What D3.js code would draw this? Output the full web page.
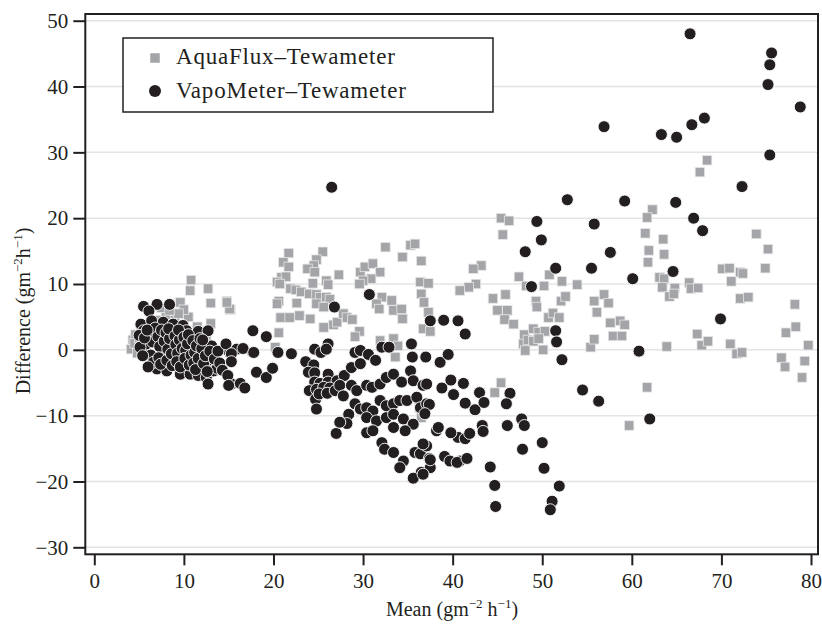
<!DOCTYPE html>
<html>
<head>
<meta charset="utf-8">
<script src="https://cdn.jsdelivr.net/npm/d3@7"></script>
<style>
  body { margin: 0; background: #fff; }
  svg { display: block; }
  text { font-family: "Liberation Serif", "DejaVu Serif", serif; fill: #231f20; }
</style>
</head>
<body>
<div class="container"></div>
<script>
// tick values
const xTicks = [0, 10, 20, 30, 40, 50, 60, 70, 80];
const yTicks = [-30, -20, -10, 0, 10, 20, 30, 40, 50];
const seriesNames = ["AquaFlux–Tewameter", "VapoMeter–Tewameter"];

// AquaFlux - Tewameter (mean, difference)
const aquaFlux = [
  [4.1,0.1],[4.3,1.5],[4.6,2.3],[4.5,1.0],[4.8,-0.5],[5.0,1.8],[5.5,0.5],[6.0,2.0],[6.5,3.5],[7.0,4.5],
  [7.5,1.0],[8.0,5.0],[8.5,2.5],[9.0,4.5],[9.5,0.0],[10.0,3.0],[10.5,5.0],[11.0,0.0],[11.5,3.5],[12.0,-1.0],
  [12.5,1.5],[13.0,4.0],[13.5,-0.5],[6.0,-1.0],[7.0,-2.0],[8.0,-1.0],[9.0,-2.5],
  [10.8,10.6],[10.7,9.0],[12.7,9.3],[13.0,7.1],[14.8,7.4],[15.2,6.1],[9.6,7.2],[10.0,6.1],[9.4,5.5],[7.5,6.4],[8.4,6.0],
  [15.1,6.2],[14.8,7.2],
  [21.7,14.7],[21.1,13.3],[21.7,12.6],[20.9,11.0],[21.4,11.1],[20.4,10.3],[25.5,14.9],[24.8,13.7],[24.5,12.8],[23.8,12.3],
  [24.6,11.8],[24.4,10.1],[25.9,10.5],[26.1,9.9],[27.3,11.4],[21.9,9.3],[22.5,9.1],[23.1,8.8],[24.0,8.5],[24.8,8.4],
  [25.2,8.0],[25.9,8.0],[26.3,7.7],[20.6,7.4],[22.6,7.1],[24.8,7.0],[25.6,6.5],[20.8,4.9],[21.8,4.9],[22.9,5.2],
  [24.1,4.7],[25.6,3.4],[26.7,3.8],[27.1,4.2],[27.8,5.5],[28.2,4.9],[28.8,4.6],[29.6,2.8],[29.1,2.0],[20.6,2.6],
  [20.2,0.4],[20.7,10.0],[20.4,7.0],
  [29.7,11.8],[30.2,12.6],[31.1,13.1],[31.9,11.8],[30.9,10.8],[30.0,10.5],[29.6,10.0],[32.5,15.6],[34.4,14.1],[35.3,15.9],
  [35.8,16.1],[36.5,13.5],[32.1,8.0],[31.5,7.0],[31.8,6.2],[33.2,7.5],[33.4,6.0],[34.3,6.2],[34.4,4.7],[36.4,10.3],
  [37.3,10.1],[36.5,8.5],[36.8,7.2],[37.3,5.7],[36.7,3.2],[37.5,2.8],[31.9,1.4],[33.4,1.7],[33.9,0.6],[33.6,-1.1],
  [36.3,-8.8],[36.5,-10.3],
  [45.4,20.0],[46.3,19.6],[45.6,17.5],[43.2,12.8],[42.3,12.3],[42.6,10.0],[41.8,9.5],[40.8,9.0],[47.4,11.1],[48.2,9.7],
  [50.8,11.4],[52.2,10.4],[50.2,9.7],[53.9,9.9],[44.5,7.8],[45.9,8.4],[45.0,6.0],[46.1,6.0],[45.8,4.6],[46.8,3.9],
  [49.3,7.4],[49.4,6.5],[52.1,7.4],[52.6,8.1],[50.7,4.9],[51.2,5.6],[51.9,4.9],[48.0,2.3],[49.0,3.2],[49.6,2.7],
  [50.3,2.8],[47.9,0.9],[48.4,1.5],[49.0,1.3],[49.6,1.7],[50.1,0.0],[48.1,-0.1],[55.8,7.4],[56.9,8.4],[57.4,7.1],
  [56.1,5.7],[57.6,4.1],[58.7,4.4],[59.2,3.8],[57.9,2.1],[58.9,2.1],[55.4,0.4],[55.8,1.6],[45.4,-5.0],[44.7,-6.5],
  [68.4,28.8],[67.6,27.0],[62.3,21.3],[61.7,20.1],[61.5,17.7],[63.5,16.8],[61.9,15.1],[63.6,14.5],[61.8,13.3],[63.1,11.0],
  [63.6,10.8],[63.4,9.5],[64.8,9.4],[64.2,8.1],[64.7,8.5],[66.4,10.2],[66.6,9.3],[67.4,9.4],[70.1,12.3],[70.9,12.4],
  [71.1,10.4],[72.1,11.8],[72.4,11.6],[72.1,7.8],[73.0,8.0],[73.9,17.6],[75.2,15.3],[74.9,12.4],[78.2,6.9],[78.3,3.5],
  [77.2,2.6],[79.7,0.7],[79.3,-1.7],[79.0,-4.2],[76.7,-1.2],[77.1,-2.6],[67.3,2.4],[67.8,0.7],[68.5,1.3],[71.0,0.9],
  [71.7,-0.6],[72.3,-0.4],[63.9,0.5],[61.7,-5.7],[59.7,-11.5]
];

// VapoMeter - Tewameter (mean, difference)
const vapoMeter = [
  [5.5,6.6],[7.0,6.9],[8.4,6.9],[6.1,5.9],[5.2,3.9],[6.4,4.4],[7.7,4.2],[8.8,3.9],[9.9,3.7],[10.3,2.9],
  [11.6,2.8],[12.7,2.9],[5.3,0.1],[5.8,0.9],[5.1,0.4],[5.5,2.9],[13.1,0.6],[15.1,-0.4],[17.7,-0.4],
  [7.0,-2.9],[8.1,-3.2],[9.6,-3.7],[10.7,-3.7],[11.6,-3.9],[12.5,-4.2],[13.3,-3.2],[12.7,-1.6],[13.7,-2.8],[15.3,-5.2],[12.7,-5.2],
  [6.2,2.5],[6.5,1.2],[6.3,-0.8],[6.8,3.3],[6.6,-1.9],[7.1,2.0],[7.3,0.5],[7.2,-1.2],[7.5,3.0],[7.4,-2.2],
  [7.8,1.3],[8.0,2.6],[8.2,0.1],[8.1,-1.6],[8.4,1.7],[8.6,-0.6],[8.3,3.2],[8.7,-2.4],[9.0,2.1],[9.1,0.8],
  [9.3,-0.5],[9.2,-1.8],[9.5,1.5],[9.6,-2.6],[9.4,3.0],[9.8,0.2],[10.0,1.9],[10.2,-0.1],[10.1,-1.3],[10.4,0.9],
  [10.6,-2.3],[10.5,2.3],[10.8,-0.8],[11.0,1.4],[11.2,-0.4],[11.1,-2.0],[11.4,0.6],[11.6,-1.3],[11.3,-3.0],[11.8,1.7],
  [12.0,0.2],[12.2,-2.1],[12.4,-0.9],[12.1,1.5],[12.6,-3.3],[12.9,-0.2],[13.4,-1.4],[13.8,-0.2],[14.0,-2.0],[14.3,-3.1],
  [5.0,2.2],[5.6,1.8],[5.9,3.0],[5.4,-0.9],[6.0,-2.6],
  [17.7,2.9],[19.2,2.0],[14.7,0.9],[15.9,0.1],[16.6,0.2],[15.3,-0.6],[15.3,-1.8],[17.8,-0.4],[20.5,-0.4],[22.0,-0.6],
  [18.1,-3.4],[19.2,-4.2],[19.9,-2.8],[14.9,-3.9],[15.0,-5.4],[16.3,-5.1],[16.8,-5.8],
  [26.8,6.5],[30.7,8.4],[26.5,24.7],
  [24.6,0.1],[25.3,-0.4],[26.1,0.9],[25.9,0.1],[23.6,-1.8],[24.5,-2.3],[23.9,-3.4],[24.6,-3.5],[26.1,-3.7],[24.6,-4.9],
  [25.2,-5.1],[26.1,-4.9],[27.1,-4.7],[27.9,-3.9],[28.7,-2.7],[29.7,-2.1],[29.1,-0.4],[29.7,-0.1],[30.6,-0.7],[31.4,-1.6],
  [32.1,0.4],[32.9,0.4],[35.4,0.9],[35.5,-1.1],[35.3,-3.2],
  [24.0,-6.2],[24.8,-6.0],[25.6,-5.7],[26.3,-5.8],[24.7,-7.5],[25.1,-6.7],[26.0,-6.6],[26.9,-6.2],[27.4,-5.4],[27.8,-7.0],
  [28.7,-5.4],[29.3,-6.2],[30.4,-5.4],[31.0,-5.7],[31.9,-5.2],[32.6,-4.2],[33.4,-3.7],[34.3,-4.9],[35.6,-4.7],[36.7,-5.4],
  [24.8,-9.0],[29.1,-8.2],[28.4,-9.8],[29.7,-9.0],[30.4,-8.8],[31.1,-9.3],[31.9,-7.7],[32.6,-8.5],[33.4,-8.2],[34.1,-7.7],
  [34.9,-7.7],[36.0,-7.2],[36.4,-8.8],[37.1,-8.2],[30.4,-10.3],[31.5,-10.8],[32.6,-10.3],[33.4,-9.8],[34.5,-10.5],[35.6,-11.3],
  [33.4,-11.8],[34.7,-12.3],[27.0,-12.7],[28.2,-11.2],[27.4,-11.0],[30.4,-12.6],[31.1,-12.3],[32.1,-14.1],[32.4,-15.1],[33.4,-15.6],
  [34.5,-16.9],[34.1,-17.9],[35.8,-15.6],[36.4,-15.8],[37.1,-14.6],[37.4,-16.5],[36.5,-18.6],[37.5,-17.9],[35.6,-19.5],[38.2,-12.3],
  [40.6,-13.3],[40.8,-16.9],
  [37.5,4.4],[39.0,4.5],[40.6,4.4],[41.4,2.4],[37.0,-1.1],[38.6,-1.9],[39.5,-0.7],[37.1,-5.2],[38.8,-5.8],[39.8,-4.6],
  [40.1,-6.8],[41.2,-5.1],[41.4,-8.1],[42.5,-9.1],[43.0,-6.5],[43.5,-8.0],[46.4,-6.6],[46.0,-8.2],[37.4,-8.3],[36.9,-9.7],
  [38.4,-11.8],[39.8,-12.6],[41.4,-13.5],[41.9,-12.7],[43.3,-11.5],[43.4,-12.4],[46.1,-11.5],[47.7,-10.5],[48.0,-11.5],[47.8,-15.1],
  [50.0,-14.1],[50.2,-18.0],[51.9,-20.7],[51.1,-23.0],[50.9,-24.3],[44.2,-17.8],[44.7,-20.6],[44.8,-23.8],[36.7,-14.3],[37.5,-16.7],
  [36.7,-18.9],[39.1,-16.2],[39.7,-16.9],[40.5,-17.1],[41.6,-16.5],
  [52.8,22.8],[49.4,19.5],[55.8,19.1],[49.9,16.7],[48.1,14.9],[57.6,14.8],[51.5,12.4],[55.5,12.4],[48.8,9.6],[51.5,2.9],
  [51.6,1.2],[52.2,-1.5],[54.5,-6.1],[56.3,-7.8],[56.9,33.9],
  [66.5,48.0],[75.6,45.1],[75.4,43.3],[75.2,40.3],[78.8,36.9],[63.3,32.7],[65.0,32.3],[66.7,34.2],[68.1,35.2],[75.4,29.6],
  [72.3,24.8],[59.2,22.6],[64.9,22.4],[66.9,20.0],[67.9,18.1],[64.6,11.9],[60.1,10.8],[69.9,4.7],[60.8,-0.2],[62.0,-10.5]
];

const width = 822, height = 624;
const plot = {left: 85.3, right: 818, top: 14, bottom: 554.3};

const svg = d3.select(".container")
    .append("svg")
    .attr("width", width)
    .attr("height", height);

const x = d3.scaleLinear().domain([0, 80]).range([94.3, 811]);
const y = d3.scaleLinear().domain([-30, 50]).range([547.3, 20.7]);

// gridlines
svg.append("g")
    .selectAll("line")
    .data(yTicks)
    .enter()
    .append("line")
    .attr("x1", plot.left)
    .attr("x2", plot.right)
    .attr("y1", d => y(d))
    .attr("y2", d => y(d))
    .style("stroke", "#e4e4e4")
    .style("stroke-width", 1.5);

// squares first, circles on top
const sq = 9.5;
svg.append("g")
    .selectAll("rect")
    .data(aquaFlux)
    .enter()
    .append("rect")
    .attr("x", d => x(d[0]) - sq / 2)
    .attr("y", d => y(d[1]) - sq / 2)
    .attr("width", sq)
    .attr("height", sq)
    .style("fill", "#a4a5a8")
    .style("stroke", "#e8e8e8")
    .style("stroke-width", 0.8);

svg.append("g")
    .selectAll("circle")
    .data(vapoMeter)
    .enter()
    .append("circle")
    .attr("cx", d => x(d[0]))
    .attr("cy", d => y(d[1]))
    .attr("r", 6)
    .style("fill", "#231f20")
    .style("stroke", "#fff")
    .style("stroke-width", 0.9);

// frame
svg.append("rect")
    .attr("x", plot.left)
    .attr("y", plot.top)
    .attr("width", plot.right - plot.left)
    .attr("height", plot.bottom - plot.top)
    .style("fill", "none")
    .style("stroke", "#231f20")
    .style("stroke-width", 2);

// axes
const fmt = d3.format("d");
const yAxis = svg.append("g")
    .attr("transform", `translate(${plot.left},0)`)
    .call(d3.axisLeft(y).tickValues(yTicks).tickSize(12).tickPadding(5).tickFormat(fmt));
const xAxis = svg.append("g")
    .attr("transform", `translate(0,${plot.bottom})`)
    .call(d3.axisBottom(x).tickValues(xTicks).tickSize(11).tickPadding(8).tickFormat(fmt));

[xAxis, yAxis].forEach(g => {
    g.select(".domain").remove();
    g.selectAll(".tick line").style("stroke", "#231f20").style("stroke-width", 2);
    g.selectAll(".tick text")
        .style("font-family", '"Liberation Serif", serif')
        .style("font-size", "21px")
        .style("fill", "#231f20");
});

// axis titles
const xt = svg.append("text")
    .attr("x", 452)
    .attr("y", 616)
    .attr("text-anchor", "middle")
    .style("font-size", "20px");
xt.append("tspan").text("Mean (gm");
xt.append("tspan").attr("dy", -8).style("font-size", "13px").text("−2");
xt.append("tspan").attr("dy", 8).text(" h");
xt.append("tspan").attr("dy", -8).style("font-size", "13px").text("−1");
xt.append("tspan").attr("dy", 8).text(")");

const yt = svg.append("text")
    .attr("transform", "translate(30,311) rotate(-90)")
    .attr("text-anchor", "middle")
    .style("font-size", "20px");
yt.append("tspan").text("Difference (gm");
yt.append("tspan").attr("dy", -8).style("font-size", "13px").text("−2");
yt.append("tspan").attr("dy", 8).text("h");
yt.append("tspan").attr("dy", -8).style("font-size", "13px").text("−1");
yt.append("tspan").attr("dy", 8).text(")");

// legend
const legend = svg.append("g");
legend.append("rect")
    .attr("x", 123)
    .attr("y", 38)
    .attr("width", 370)
    .attr("height", 74)
    .style("fill", "#fff")
    .style("stroke", "#231f20")
    .style("stroke-width", 1.5);
legend.append("rect")
    .attr("x", 155 - sq / 2)
    .attr("y", 58 - sq / 2)
    .attr("width", sq)
    .attr("height", sq)
    .style("fill", "#a4a5a8");
legend.append("circle")
    .attr("cx", 155)
    .attr("cy", 91)
    .attr("r", 6)
    .style("fill", "#231f20");
legend.selectAll(".lab")
    .data(seriesNames)
    .enter()
    .append("text")
    .attr("class", "lab")
    .attr("x", 176)
    .attr("y", (d, i) => 64 + i * 34)
    .style("font-size", "23px")
    .style("letter-spacing", "0.8px")
    .text(d => d);
</script>
</body>
</html>
